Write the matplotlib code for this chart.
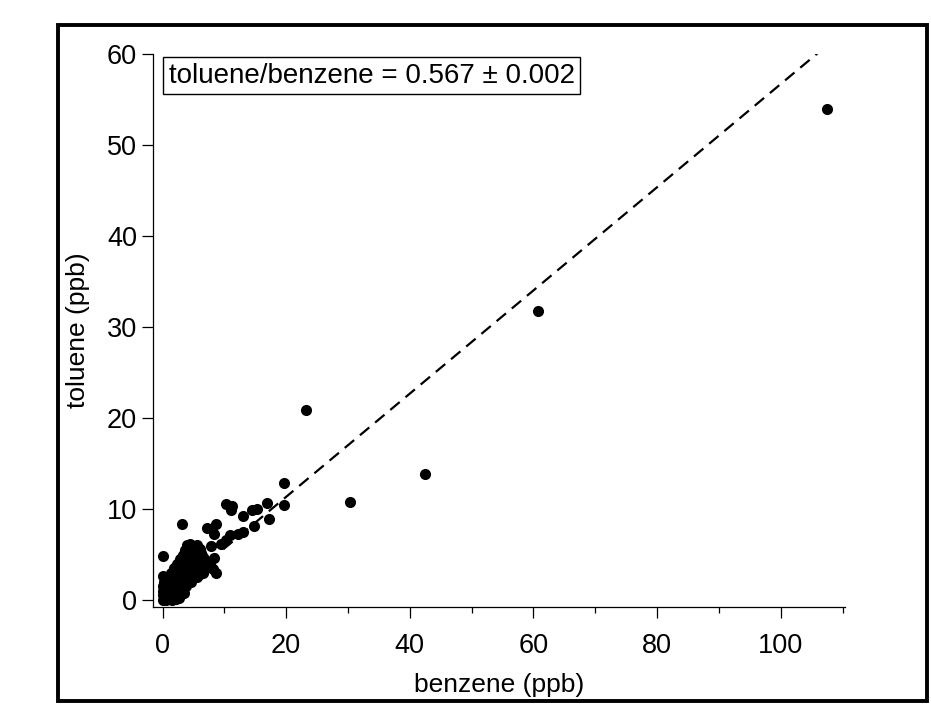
import matplotlib
matplotlib.use("Agg")
import matplotlib.pyplot as plt
from matplotlib.patches import Rectangle
from matplotlib.ticker import MultipleLocator

plt.rcParams['font.family'] = ['Liberation Sans', 'DejaVu Sans']

# benzene / toluene mixing ratios (ppb)
benzene = [
    107.5, 60.7, 42.5, 30.3, 23.2, 19.6, 19.7, 16.9, 17.3, 14.8, 15.2, 14.5, 13.0,
    10.3, 11.3, 11.1, 3.2, 7.2, 8.7, 8.4, 10.9, 12.2, 13.0, 9.5, 7.9, 10.3,
    0.1, 8.4, 8.6, 0.0, 8.2, 7.6, 6.6,
    # dense cluster
    0.0, 0.3, 0.6, 0.9, 1.2, 1.5, 1.8, 2.2, 2.6,
    0.0, 0.4, 0.8, 1.2, 1.6, 2.0, 2.5, 3.0, 3.4,
    0.1, 0.5, 0.9, 1.3, 1.8, 2.3, 2.8, 3.3, 3.8,
    0.0, 0.4, 0.9, 1.4, 1.9, 2.4, 2.9, 3.4, 4.0, 4.6,
    0.2, 0.7, 1.2, 1.8, 2.4, 3.0, 3.6, 4.2, 4.9, 5.5,
    0.9, 1.6, 2.2, 2.9, 3.5, 4.1, 4.8, 5.4, 6.1, 6.6,
    1.3, 2.0, 2.7, 3.3, 4.0, 4.6, 5.2, 5.9, 6.5, 7.1,
    1.8, 2.5, 3.1, 3.8, 4.4, 5.1, 5.8, 6.4, 7.0,
    2.4, 3.0, 3.7, 4.3, 5.0, 5.6, 6.3, 6.9,
    2.9, 3.5, 4.1, 4.8, 5.4, 6.0, 6.6,
    3.3, 3.9, 4.5, 5.1, 5.8, 6.3,
    3.6, 4.2, 4.8, 5.4, 6.0,
    3.9, 4.4, 5.0, 5.6,
]
toluene = [
    54.0, 31.8, 13.9, 10.8, 20.9, 12.9, 10.4, 10.7, 8.9, 8.1, 10.0, 9.9, 9.2,
    10.6, 10.3, 9.9, 8.3, 7.9, 8.3, 7.3, 7.1, 7.3, 7.5, 6.2, 5.9, 6.6,
    4.8, 4.6, 3.0, 2.6, 3.4, 3.8, 3.1,
    # dense cluster
    0.0, 0.1, 0.0, 0.2, 0.1, 0.0, 0.2, 0.1, 0.2,
    0.5, 0.4, 0.6, 0.5, 0.4, 0.6, 0.5, 0.7, 0.8,
    1.0, 1.1, 0.9, 1.0, 1.1, 1.0, 1.2, 1.3, 1.5,
    1.5, 1.6, 1.4, 1.5, 1.6, 1.5, 1.7, 1.8, 1.9, 2.0,
    2.0, 2.1, 1.9, 2.0, 2.1, 2.0, 2.2, 2.3, 2.4, 2.5,
    2.5, 2.6, 2.4, 2.5, 2.6, 2.5, 2.7, 2.8, 2.9, 3.0,
    3.0, 3.1, 2.9, 3.0, 3.1, 3.0, 3.2, 3.3, 3.4, 3.6,
    3.5, 3.6, 3.4, 3.5, 3.6, 3.5, 3.7, 3.8, 4.0,
    4.0, 4.1, 3.9, 4.0, 4.1, 4.0, 4.2, 4.4,
    4.5, 4.6, 4.4, 4.5, 4.6, 4.5, 4.7,
    5.0, 5.1, 4.9, 5.0, 5.1, 5.2,
    5.5, 5.6, 5.4, 5.5, 5.6,
    6.0, 6.1, 5.9, 6.0,
]
slope = 0.567
slope_err = 0.002

fig = plt.figure(figsize=(9.31, 7.26), dpi=100)
ax = fig.add_axes([0.1643, 0.1639, 0.7433, 0.7617])

ax.plot(benzene, toluene, 'o', color='black', markersize=8, markeredgewidth=0, zorder=3)

x_fit = [0, max(benzene)]
y_fit = [slope * v for v in x_fit]
ax.plot(x_fit, y_fit, color='black', lw=1.6, linestyle=(0, (5.5, 3.4)), zorder=2)

ax.set_xlim(-1.55, 110.4)
ax.set_ylim(-0.77, 60)
ax.xaxis.set_major_locator(MultipleLocator(20))
ax.xaxis.set_minor_locator(MultipleLocator(10))
ax.yaxis.set_major_locator(MultipleLocator(10))

for side in ['top', 'right']:
    ax.spines[side].set_visible(False)
for side in ['left', 'bottom']:
    ax.spines[side].set_linewidth(0.9)

ax.tick_params(axis='both', which='major', length=8, width=0.9, labelsize=19.5, direction='out')
ax.tick_params(axis='x', which='minor', length=4, width=0.9, direction='out')
ax.tick_params(axis='x', which='major', pad=11)
ax.tick_params(axis='y', which='major', pad=3.5)

ax.set_xlabel('benzene (ppb)', fontsize=19, labelpad=10)
ax.set_ylabel('toluene (ppb)', fontsize=19, labelpad=12)

ax.text(0.023, 0.984, 'toluene/benzene = %.3f \u00b1 %.3f' % (slope, slope_err),
        transform=ax.transAxes, ha='left', va='top', fontsize=20,
        bbox=dict(boxstyle='square,pad=0.2', fc='white', ec='black', lw=1))

# outer frame
fig.patches.append(Rectangle((0.0623, 0.0344), 0.9334, 0.9312, transform=fig.transFigure,
                             fill=False, ec='black', lw=2.8, zorder=10))

fig.savefig('out.png', dpi=100)
